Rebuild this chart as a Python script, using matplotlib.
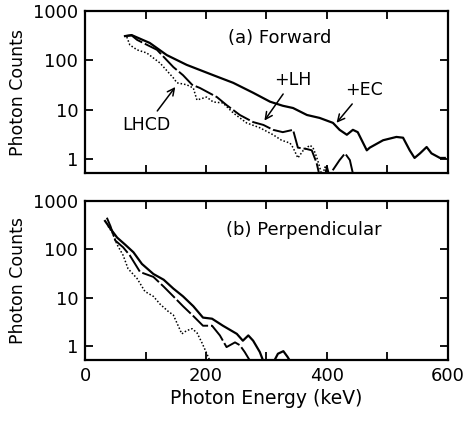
import matplotlib
matplotlib.use("Agg")
import matplotlib.pyplot as plt
from matplotlib.ticker import FixedLocator, FuncFormatter, NullLocator

# (a) Forward, values
fwd_ec_x = [66, 77, 107, 135, 168, 212, 245, 278, 306, 327, 344, 367, 388, 410, 421, 433,
            443, 451, 466, 471, 493, 515, 526, 537, 545, 554, 565, 573, 587, 595]
fwd_ec_y = [310, 325, 225, 128, 81, 50, 35, 22, 14.5, 12, 10.8, 7.8, 6.8, 5.4, 3.9, 3.1,
            3.9, 3.5, 1.5, 1.7, 2.4, 2.8, 2.7, 1.5, 1.05, 1.3, 1.75, 1.3, 1.05, 1.05]

fwd_lh_x = [66, 77, 86, 119, 146, 162, 177, 190, 218, 234, 256, 278, 295, 311, 327, 344,
            352, 366, 375, 383, 388, 397, 400, 404, 410, 421, 430, 438, 444]
fwd_lh_y = [310, 320, 260, 163, 73, 50, 32, 27.5, 18, 12.4, 7.8, 5.6, 4.9, 3.9, 3.5, 3.9,
            1.7, 1.6, 1.5, 0.83, 0.45, 0.45, 0.7, 0.45, 0.6, 0.95, 1.3, 0.95, 0.45]

fwd_lhcd_x = [69, 74, 86, 102, 124, 146, 152, 168, 179, 185, 201, 212, 228, 245, 267, 289,
              311, 325, 339, 344, 352, 361, 372, 377, 383, 388, 392, 397, 401]
fwd_lhcd_y = [297, 205, 163, 141, 88, 44, 35, 32, 27.5, 15.7, 18, 14.3, 13.7, 8.6, 5.4, 4.3,
              3.1, 2.4, 2.1, 1.7, 1.05, 1.5, 1.9, 1.7, 1.1, 0.69, 0.45, 0.69, 0.45]

# (b) Perpendicular
perp_ec_x = [33, 41, 53, 66, 80, 94, 113, 130, 146, 162, 179, 195, 210, 228, 251, 261,
             270, 278, 289, 296, 311, 319, 328, 335, 341]
perp_ec_y = [385, 277, 175, 126, 87, 50, 31, 23.6, 15.5, 10.7, 6.7, 3.9, 3.7, 2.65, 1.8, 1.3,
             1.67, 1.3, 0.76, 0.45, 0.45, 0.7, 0.79, 0.6, 0.45]

perp_lh_x = [36, 42, 50, 63, 74, 91, 113, 130, 146, 162, 179, 195, 210, 223, 234, 248,
             256, 264, 275]
perp_lh_y = [450, 300, 152, 110, 75, 34, 27, 17, 10.7, 6.7, 4.2, 2.65, 2.65, 1.67, 0.96, 1.2,
             1.05, 0.76, 0.45]

perp_lhcd_x = [38, 45, 53, 63, 71, 86, 99, 113, 124, 137, 146, 160, 168, 177, 185, 193,
               201, 208]
perp_lhcd_y = [300, 220, 125, 75, 40, 25, 13.5, 10.7, 7.4, 5.3, 4.4, 1.8, 2.1, 2.3, 1.9, 1.2,
               0.72, 0.45]

xticks = [0, 100, 200, 300, 400, 500, 600]
yticks = [1, 10, 100, 1000]

plt.rcParams['font.family'] = ['DejaVu Sans']
plt.rcParams['font.size'] = 13

fig = plt.figure(figsize=(4.65, 4.23), dpi=100)
ax1 = fig.add_axes([0.183, 0.591, 0.78, 0.383])
ax2 = fig.add_axes([0.183, 0.149, 0.78, 0.376])

def style(ax):
    ax.set_yscale('log')
    ax.set_xlim(0, 600)
    ax.set_ylim(0.52, 1000)
    ax.xaxis.set_major_locator(FixedLocator(xticks))
    ax.yaxis.set_major_locator(FixedLocator(yticks))
    ax.yaxis.set_minor_locator(NullLocator())
    ax.yaxis.set_major_formatter(FuncFormatter(lambda v, p: "%d" % v))
    ax.xaxis.set_major_formatter(FuncFormatter(lambda v, p: "%d" % v if v % 200 == 0 else ""))
    ax.tick_params(direction='in', length=6, width=1.3, top=True, right=True, pad=5,
                   labelsize=13)
    for s in ax.spines.values():
        s.set_linewidth(1.6)
    ax.set_ylabel("Photon Counts", fontsize=12.5)
    ax.yaxis.set_label_coords(-0.16, 0.5)

for ax in (ax1, ax2):
    style(ax)

ax1.tick_params(labelbottom=False)

ax1.plot(fwd_ec_x, fwd_ec_y, color='k', lw=1.6)
ax1.plot(fwd_lh_x, fwd_lh_y, color='k', lw=1.4, dashes=(10, 1.5))
ax1.plot(fwd_lhcd_x, fwd_lhcd_y, color='k', lw=1.1, dashes=(1, 1.3))

ax2.plot(perp_ec_x, perp_ec_y, color='k', lw=1.6)
ax2.plot(perp_lh_x, perp_lh_y, color='k', lw=1.4, dashes=(10, 1.5))
ax2.plot(perp_lhcd_x, perp_lhcd_y, color='k', lw=1.1, dashes=(1, 1.3))

ax1.text(322, 284, "(a) Forward", ha='center', va='center', fontsize=13)
ax2.text(362, 252, "(b) Perpendicular", ha='center', va='center', fontsize=13)

arrow = dict(arrowstyle='->', color='k', lw=1.1)
ax1.annotate("+LH", xy=(294, 5.4), xytext=(344, 40), ha='center', va='center',
             fontsize=12.5, arrowprops=arrow)
ax1.annotate("+EC", xy=(413, 4.9), xytext=(461, 25), ha='center', va='center',
             fontsize=12.5, arrowprops=arrow)
ax1.annotate("LHCD", xy=(152, 32), xytext=(102, 4.9), ha='center', va='center',
             fontsize=12.5, arrowprops=arrow)

ax2.set_xlabel("Photon Energy (keV)", fontsize=13.5)
ax2.xaxis.set_label_coords(0.5, -0.18)

fig.savefig("out.png", dpi=100, facecolor='white')
